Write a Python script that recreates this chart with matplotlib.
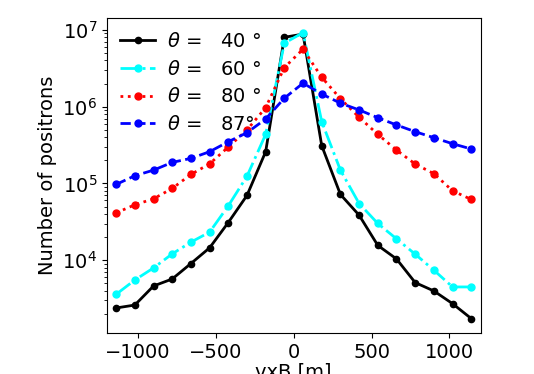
import numpy as np
import matplotlib
matplotlib.use("Agg")
import matplotlib.pyplot as plt

# positions along vxB axis [m]
x_pos = [-1140, -1020, -900, -780, -660, -540, -420, -300, -180, -60,
         60, 180, 300, 420, 540, 660, 780, 900, 1020, 1140]

n_40 = [2390, 2610, 4620, 5700, 9060, 14500, 31000, 69800, 259000, 8.0e6,
        8.8e6, 310000, 71900, 38600, 15600, 10400, 5120, 3980, 2720, 1740]
n_60 = [3600, 5530, 7940, 12100, 17200, 23200, 51100, 124000, 436000, 6.7e6,
        9.2e6, 637000, 149000, 54800, 30100, 19000, 12000, 7420, 4490, 4490]
n_80 = [41400, 52700, 63100, 86100, 131000, 180000, 298000, 497000, 971000, 3.23e6,
        5.6e6, 2.41e6, 1.27e6, 726000, 436000, 272000, 179000, 134000, 80200, 61900]
n_87 = [97100, 126000, 149000, 188000, 212000, 259000, 349000, 458000, 690000, 1.29e6,
        2.02e6, 1.46e6, 1.11e6, 906000, 718000, 577000, 472000, 394000, 329000, 281000]

labels = [r"$\theta$ =   40 °", r"$\theta$ =   60 °", r"$\theta$ =   80 °", r"$\theta$ =   87°"]

plt.rcParams['font.size'] = 14
fig = plt.figure(figsize=(5.34, 3.74), dpi=100)
ax = fig.add_axes([0.2, 0.11, 0.7, 0.841])

ax.plot(x_pos, n_40, '-', color='black', marker='o', markersize=4.5, linewidth=2, label=labels[0])
ax.plot(x_pos, n_60, '-.', color='cyan', marker='o', markersize=5, linewidth=2, label=labels[1])
ax.plot(x_pos, n_80, ':', color='red', marker='o', markersize=5, linewidth=2, label=labels[2])
ax.plot(x_pos, n_87, '--', color='blue', marker='o', markersize=5, linewidth=2, label=labels[3])

ax.set_yscale('log')
ax.set_xlim(-1200, 1200)
ax.set_xlabel("vxB [m]", labelpad=1)
ax.set_ylabel("Number of positrons")
ax.legend(loc='upper left', frameon=False, fontsize=14, handlelength=1.8,
          handletextpad=0.6, borderaxespad=0.3, labelspacing=0.45)

fig.savefig("out.png", dpi=100)
